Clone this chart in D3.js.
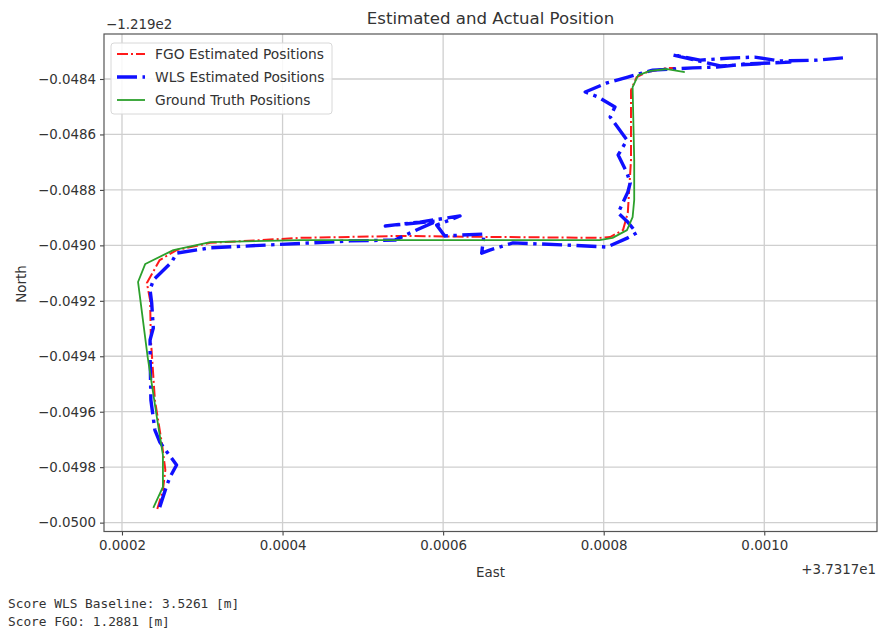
<!DOCTYPE html>
<html>
<head>
<meta charset="utf-8">
<script src="https://cdn.jsdelivr.net/npm/d3@7"></script>
<style>
  body { margin: 0; background: #fff; }
  text { font-family: "DejaVu Sans", sans-serif; fill: #333; }
  .mono { font-family: "DejaVu Sans Mono", monospace; }
</style>
</head>
<body>
<div id="chart"></div>
<script>
// Estimated vs actual position chart

const width = 879;
const height = 634;
const margin = {left: 104, right: 2, top: 34, bottom: 102.5};

// axis offsets (matplotlib style)
const eastOffset = "+3.7317e1";
const northOffset = "\u22121.219e2";

// tick labels
const eastTicks = [0.0002, 0.0004, 0.0006, 0.0008, 0.0010];
const northTicks = [-0.0484, -0.0486, -0.0488, -0.0490, -0.0492, -0.0494, -0.0496, -0.0498, -0.0500];

// axis limits
const eastLimits = [0.0001776, 0.0011404];
const northLimits = [-0.050032, -0.0482377];

// Ground truth
const gtEast = [0.000239, 0.000251, 0.000251, 0.000244, 0.000232, 0.000220, 0.000229, 0.000264, 0.000310,
  0.000422, 0.000546, 0.000671, 0.000795, 0.000811, 0.000829, 0.000836, 0.000838, 0.000838, 0.000836,
  0.000843, 0.000858, 0.000879, 0.000901];
const gtNorth = [-0.049947, -0.049871, -0.049756, -0.049630, -0.049403, -0.049132, -0.049067, -0.049017, -0.048988,
  -0.048981, -0.048981, -0.048981, -0.048981, -0.048973, -0.048945, -0.048898, -0.048836, -0.048692, -0.048429,
  -0.048386, -0.048371, -0.048364, -0.048375];

// FGO estimate
const fgoEast = [0.000244, 0.000251, 0.000254, 0.000250, 0.000241, 0.000236, 0.000235, 0.000231, 0.000247,
  0.000268, 0.000310, 0.000422, 0.000546, 0.000671, 0.000795, 0.000808, 0.000824, 0.000830, 0.000834,
  0.000834, 0.000841, 0.000854, 0.000879, 0.000889];
const fgoNorth = [-0.049951, -0.049882, -0.049810, -0.049720, -0.049558, -0.049341, -0.049197, -0.049136, -0.049053,
  -0.049017, -0.048991, -0.048973, -0.048966, -0.048970, -0.048973, -0.048970, -0.048945, -0.048883, -0.048692,
  -0.048440, -0.048393, -0.048375, -0.048360, -0.048360];

// WLS baseline
const wlsEast = [0.001098, 0.001066, 0.001019, 0.000988, 0.000961, 0.000920, 0.000886, 0.000945, 0.001032,
  0.000976, 0.000941, 0.000911, 0.000861, 0.000830, 0.000804, 0.000777, 0.000793, 0.000814, 0.000808,
  0.000829, 0.000818, 0.000829, 0.000833, 0.000830, 0.000818, 0.000830, 0.000841, 0.000830, 0.000804,
  0.000754, 0.000687, 0.000658, 0.000648, 0.000651, 0.000602, 0.000592, 0.000621, 0.000571, 0.000528,
  0.000592, 0.000559, 0.000540, 0.000484, 0.000422, 0.000372, 0.000310, 0.000268, 0.000262, 0.000239,
  0.000235, 0.000237, 0.000239, 0.000235, 0.000235, 0.000236, 0.000241, 0.000247, 0.000256, 0.000268,
  0.000260, 0.000256, 0.000247];
const wlsNorth = [-0.048324, -0.048332, -0.048335, -0.048321, -0.048324, -0.048332, -0.048313, -0.048353, -0.048339,
  -0.048346, -0.048357, -0.048360, -0.048368, -0.048393, -0.048414, -0.048447, -0.048465, -0.048501, -0.048537,
  -0.048620, -0.048674, -0.048739, -0.048775, -0.048808, -0.048883, -0.048916, -0.048955, -0.048973, -0.049006,
  -0.048999, -0.048991, -0.049017, -0.049028, -0.048959, -0.048966, -0.048927, -0.048894, -0.048916, -0.048930,
  -0.048912, -0.048955, -0.048981, -0.048984, -0.048993, -0.049000, -0.049009, -0.049028, -0.049060, -0.049125,
  -0.049161, -0.049208, -0.049298, -0.049341, -0.049388, -0.049558, -0.049666, -0.049709, -0.049745, -0.049792,
  -0.049835, -0.049864, -0.049944];

const scoreLines = ["Score WLS Baseline: 3.5261 [m]", "Score FGO: 1.2881 [m]"];

const svg = d3.select("#chart")
  .append("svg")
  .attr("width", width)
  .attr("height", height);

const xScale = d3.scaleLinear()
  .domain(eastLimits)
  .range([margin.left, width - margin.right]);

const yScale = d3.scaleLinear()
  .domain(northLimits)
  .range([height - margin.bottom, margin.top]);

// grid
svg.append("g")
  .selectAll("line")
  .data(eastTicks)
  .enter()
  .append("line")
    .attr("x1", d => xScale(d)).attr("x2", d => xScale(d))
    .attr("y1", margin.top).attr("y2", height - margin.bottom)
    .attr("stroke", "#cfcfcf").attr("stroke-width", 1.3);

svg.append("g")
  .selectAll("line")
  .data(northTicks)
  .enter()
  .append("line")
    .attr("y1", d => yScale(d)).attr("y2", d => yScale(d))
    .attr("x1", margin.left).attr("x2", width - margin.right)
    .attr("stroke", "#cfcfcf").attr("stroke-width", 1.3);

// axes
const xAxis = svg.append("g")
  .attr("transform", `translate(0,${height - margin.bottom})`)
  .call(d3.axisBottom(xScale).tickValues(eastTicks).tickFormat(d3.format(".4f")).tickSize(4).tickPadding(5));

const yAxis = svg.append("g")
  .attr("transform", `translate(${margin.left},0)`)
  .call(d3.axisLeft(yScale).tickValues(northTicks).tickFormat(d3.format(".4f")).tickSize(4).tickPadding(4));

[xAxis, yAxis].forEach(ax => {
  ax.select(".domain").remove();
  ax.selectAll(".tick line").attr("stroke", "#444").attr("stroke-width", 1.1);
  ax.selectAll(".tick text").attr("font-size", "13.4px").attr("fill", "#333")
    .attr("font-family", "DejaVu Sans, sans-serif");
});

// series
const series = [
  {name: "FGO Estimated Positions", east: fgoEast, north: fgoNorth, color: "#ff1a1a", width: 2, dash: "11,3,2,3"},
  {name: "WLS Estimated Positions", east: wlsEast, north: wlsNorth, color: "#1010ff", width: 3.4, dash: "20,5.5,3.4,5.5"},
  {name: "Ground Truth Positions", east: gtEast, north: gtNorth, color: "#2ca02c", width: 1.8, dash: null}
];

series.forEach(s => {
  const line = d3.line()
    .x(i => xScale(s.east[i]))
    .y(i => yScale(s.north[i]));
  svg.append("path")
    .attr("d", line(d3.range(s.east.length)))
    .attr("fill", "none")
    .attr("stroke", s.color)
    .attr("stroke-width", s.width)
    .attr("stroke-linejoin", "round")
    .attr("stroke-dasharray", s.dash);
});

// frame
svg.append("rect")
  .attr("x", margin.left).attr("y", margin.top)
  .attr("width", width - margin.left - margin.right)
  .attr("height", height - margin.top - margin.bottom)
  .attr("fill", "none").attr("stroke", "#555").attr("stroke-width", 1.2);

// legend
const legend = svg.append("g").attr("transform", "translate(111,43)");
legend.append("rect")
  .attr("width", 221).attr("height", 71).attr("rx", 3)
  .attr("fill", "#fff").attr("fill-opacity", 0.85)
  .attr("stroke", "#d8d8d8").attr("stroke-width", 1);

series.forEach((s, i) => {
  const y = 11 + i * 23;
  legend.append("line")
    .attr("x1", 6).attr("x2", 34).attr("y1", y).attr("y2", y)
    .attr("stroke", s.color).attr("stroke-width", s.width)
    .attr("stroke-dasharray", s.dash);
  legend.append("text")
    .attr("x", 44).attr("y", y + 5)
    .attr("font-size", "13.8px")
    .text(s.name);
});

// titles and labels
svg.append("text")
  .attr("x", (margin.left + width - margin.right) / 2).attr("y", 24)
  .attr("text-anchor", "middle").attr("font-size", "16.6px")
  .text("Estimated and Actual Position");

svg.append("text")
  .attr("x", margin.left + 2).attr("y", 29)
  .attr("font-size", "13.4px")
  .text(northOffset);

svg.append("text")
  .attr("x", width - margin.right - 1).attr("y", 574)
  .attr("text-anchor", "end").attr("font-size", "13.4px")
  .text(eastOffset);

svg.append("text")
  .attr("x", (margin.left + width - margin.right) / 2).attr("y", 577)
  .attr("text-anchor", "middle").attr("font-size", "13.4px")
  .text("East");

svg.append("text")
  .attr("transform", "translate(26,284) rotate(-90)")
  .attr("text-anchor", "middle").attr("font-size", "13.4px")
  .text("North");

svg.selectAll(".score")
  .data(scoreLines)
  .enter()
  .append("text")
    .attr("class", "mono")
    .attr("x", 8).attr("y", (d, i) => 608 + i * 18)
    .attr("font-size", "12.8px")
    .attr("fill", "#444")
    .text(d => d);
</script>
</body>
</html>
